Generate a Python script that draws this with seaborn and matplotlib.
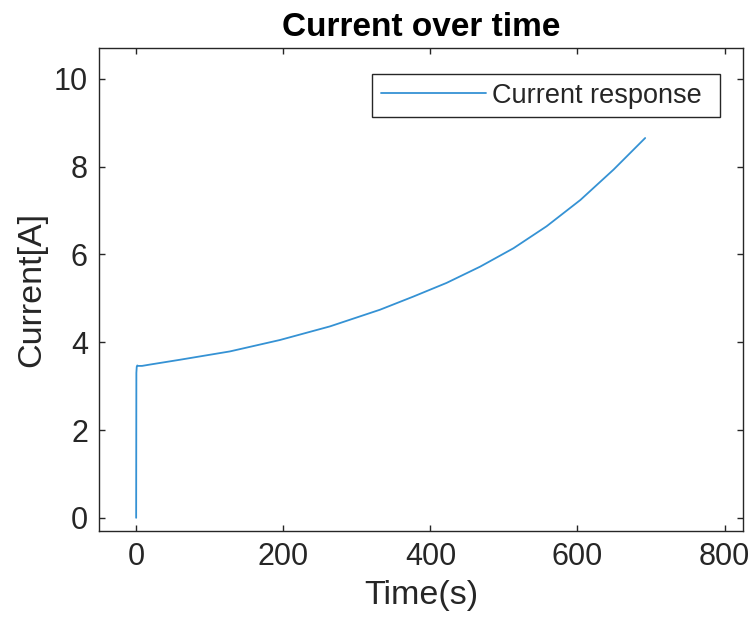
import matplotlib
matplotlib.use("Agg")
import matplotlib.pyplot as plt
import seaborn as sns
import pandas as pd

# Data
time_s = [0, 0.3, 0.8, 1.5, 2.7, 8, 18.6, 59.5, 127.5, 195.5, 263.5, 331.6,
          377, 422, 467.6, 513, 558, 604, 649, 692]
current_a = [0.0, 3.30, 3.44, 3.47, 3.46, 3.46, 3.49, 3.60, 3.79, 4.05, 4.36, 4.74,
             5.04, 5.35, 5.72, 6.14, 6.64, 7.24, 7.93, 8.65]
x_ticks = [0, 200, 400, 600, 800]
y_ticks = [0, 2, 4, 6, 8, 10]
series_name = "Current response"

sns.set_style("ticks")
plt.rcParams["font.family"] = ["Liberation Sans", "DejaVu Sans"]

df = pd.DataFrame({"Time": time_s, "Current": current_a, "Series": series_name})

fig = plt.figure(figsize=(7.51, 6.21), dpi=100)
ax = fig.add_axes([99 / 751, 1 - 531 / 621, (743 - 99) / 751, (531 - 48) / 621])

sns.lineplot(data=df, x="Time", y="Current", hue="Series", palette=["#3592D4"],
             linewidth=1.3, ax=ax, estimator=None, sort=False)

ax.set_xlim(-50.5, 825)
ax.set_ylim(-0.3, 10.7)
ax.set_xticks(x_ticks)
ax.set_yticks(y_ticks)

edge = "#262626"
for s in ax.spines.values():
    s.set_visible(True)
    s.set_color(edge)
    s.set_linewidth(1.0)
ax.tick_params(direction="in", length=4, width=1.0, color=edge, labelcolor=edge,
               labelsize=22, top=True, right=True, pad=8)

ax.set_xlabel("Time(s)", fontsize=24.5, color=edge, labelpad=6)
ax.set_ylabel("Current[A]", fontsize=24.5, color=edge, labelpad=5)
ax.set_title("Current over time", fontsize=24, fontweight="bold", color="black", pad=9)

leg = ax.legend(loc="upper left",
                bbox_to_anchor=(372 / 751, 1 - 117 / 621, 348 / 751, 43 / 621),
                bbox_transform=fig.transFigure, mode="expand",
                fontsize=19.5, frameon=True,
                fancybox=False, framealpha=1, edgecolor=edge, handlelength=3.9,
                borderpad=0.32, handletextpad=0.2, borderaxespad=0)
leg.get_frame().set_linewidth(1.0)
for t in leg.get_texts():
    t.set_color(edge)

fig.savefig("out.png", dpi=100)
